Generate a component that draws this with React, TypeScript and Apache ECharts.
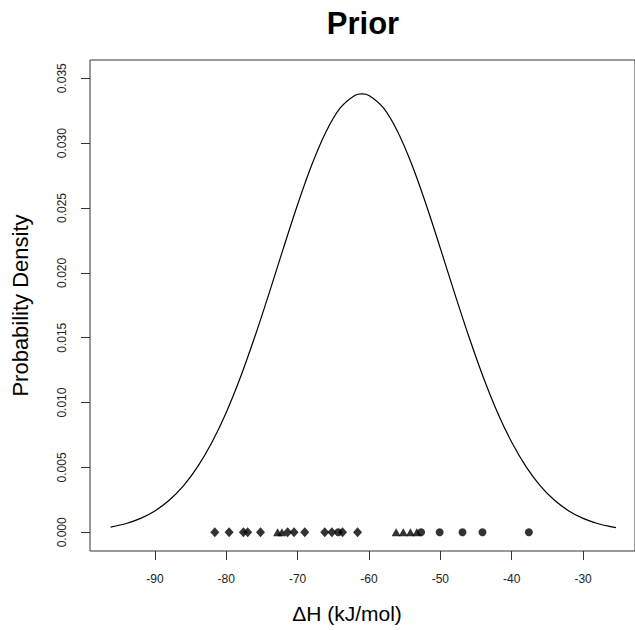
import React, { useEffect, useRef } from "react";
import * as echarts from "echarts";

const curveX = [-96.2, -94, -92, -90, -88, -86, -84, -82, -80, -78, -76, -74, -72, -70, -68, -66, -64, -62, -61, -60, -58, -56, -54, -52, -50, -48, -46, -44, -42, -40, -38, -36, -34, -32, -30, -28, -26, -25.4];
const curveY = [0.00040, 0.00068, 0.00107, 0.00165, 0.00247, 0.00358, 0.00506, 0.00694, 0.00924, 0.01197, 0.01507, 0.01842, 0.02189, 0.02527, 0.02835, 0.03090, 0.03273, 0.03368, 0.03380, 0.03368, 0.03273, 0.03090, 0.02835, 0.02527, 0.02189, 0.01842, 0.01507, 0.01197, 0.00924, 0.00694, 0.00506, 0.00358, 0.00247, 0.00165, 0.00107, 0.00068, 0.00042, 0.00036];

const diamondX = [-81.6, -79.6, -77.6, -77.0, -75.2, -71.4, -70.5, -69.0, -66.2, -65.2, -63.7, -61.6];
const triangleX = [-72.8, -72.2, -56.2, -55.2, -54.2, -53.3];
const circleX = [-64.3, -52.7, -50.1, -46.9, -44.1, -37.6];

const xTicks = [-90, -80, -70, -60, -50, -40, -30];
const yTicks = [0, 0.005, 0.01, 0.015, 0.02, 0.025, 0.03, 0.035];

const FONT = "Liberation Sans, Arial, Helvetica, sans-serif";

export default function App() {
  const ref = useRef<HTMLDivElement>(null);
  useEffect(() => {
    document.body.style.margin = "0";
    if (!ref.current) return;
    const chart = echarts.init(ref.current, undefined, { renderer: "svg" });
    const lineColor = "#333";
    chart.setOption({
      animation: false,
      backgroundColor: "#ffffff",
      grid: {
        left: 90,
        top: 60,
        width: 546,
        height: 491,
        show: true,
        borderColor: lineColor,
        borderWidth: 1,
        backgroundColor: "transparent",
      },
      xAxis: {
        type: "value",
        min: -99.09,
        max: -22.73,
        axisLine: { show: false, onZero: false },
        splitLine: { show: false },
        axisTick: {
          show: true,
          length: 9,
          inside: false,
          customValues: xTicks,
          lineStyle: { color: lineColor, width: 1 },
        },
        axisLabel: {
          customValues: xTicks,
          margin: 22,
          color: "#222",
          fontSize: 12,
          fontFamily: FONT,
          formatter: (v: number) => String(v),
        },
      },
      yAxis: {
        type: "value",
        min: -0.001442,
        max: 0.03641,
        axisLine: { show: false, onZero: false },
        splitLine: { show: false },
        axisTick: {
          show: true,
          length: 9,
          inside: false,
          customValues: yTicks,
          lineStyle: { color: lineColor, width: 1 },
        },
        axisLabel: {
          customValues: yTicks,
          rotate: 90,
          margin: 22,
          color: "#222",
          fontSize: 12,
          fontFamily: FONT,
          formatter: (v: number) => v.toFixed(3),
        },
      },
      graphic: [
        {
          type: "text",
          x: 363,
          y: 23,
          style: {
            text: "Prior",
            font: `bold 31px ${FONT}`,
            fill: "#000",
            textAlign: "center",
            textVerticalAlign: "middle",
          },
        },
        {
          type: "text",
          x: 347,
          y: 613,
          style: {
            text: "ΔH (kJ/mol)",
            font: `21px ${FONT}`,
            fill: "#000",
            textAlign: "center",
            textVerticalAlign: "middle",
          },
        },
        {
          type: "text",
          x: 20,
          y: 305.5,
          rotation: Math.PI / 2,
          style: {
            text: "Probability Density",
            font: `22px ${FONT}`,
            fill: "#000",
            textAlign: "center",
            textVerticalAlign: "middle",
          },
        },
      ],
      series: [
        {
          type: "line",
          data: curveX.map((x, i) => [x, curveY[i]]),
          showSymbol: false,
          smooth: 0.3,
          lineStyle: { color: "#000", width: 1.2 },
          silent: true,
        },
        {
          type: "scatter",
          symbol: "diamond",
          symbolSize: [9, 10],
          data: diamondX.map((x) => [x, 0]),
          itemStyle: { color: "#000" },
        },
        {
          type: "scatter",
          symbol: "triangle",
          symbolSize: [9, 8],
          data: triangleX.map((x) => [x, 0]),
          itemStyle: { color: "#000" },
        },
        {
          type: "scatter",
          symbol: "circle",
          symbolSize: 8,
          data: circleX.map((x) => [x, 0]),
          itemStyle: { color: "#000" },
        },
      ],
    });
    return () => chart.dispose();
  }, []);
  return <div ref={ref} style={{ width: 635, height: 630 }} />;
}
